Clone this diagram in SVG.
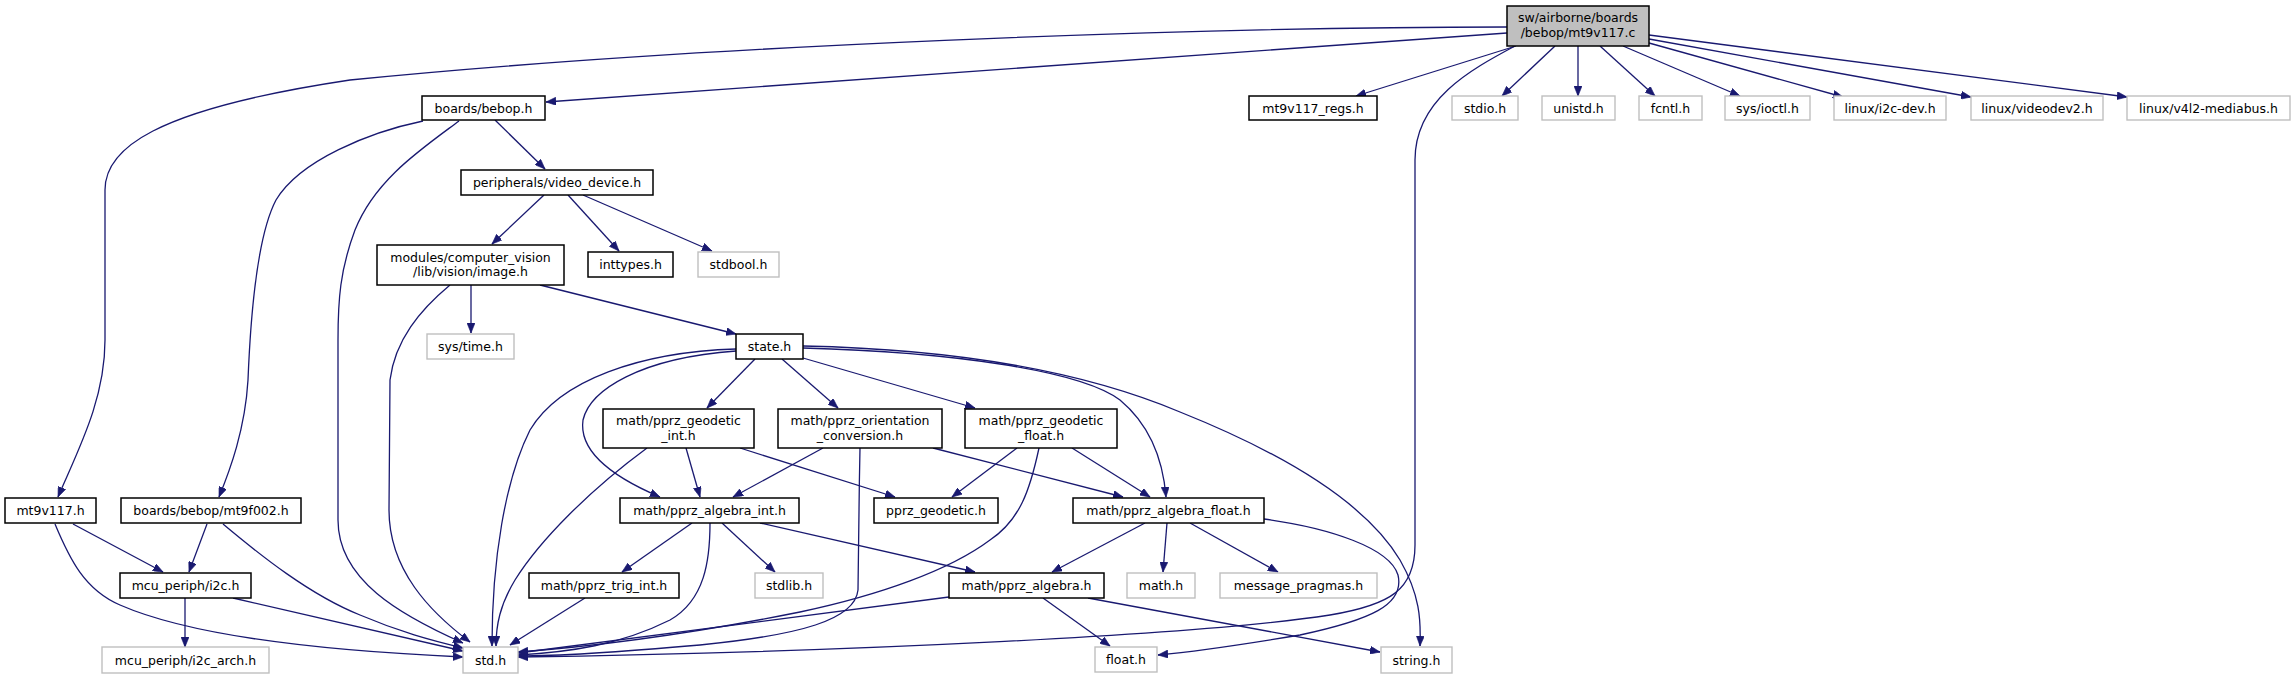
<svg xmlns="http://www.w3.org/2000/svg" width="2294" height="679" viewBox="0 0 2294 679">
<style>
.bg{fill:#ffffff}
.doc rect{fill:#ffffff;stroke:#000000;stroke-width:1.5}
.ext rect{fill:#ffffff;stroke:#bfbfbf;stroke-width:1.4}
.main rect{fill:#bfbfbf;stroke:#000000;stroke-width:1.5}
text{font-family:"DejaVu Sans","Liberation Sans",sans-serif;font-size:12.5px;fill:#000000;text-anchor:middle}
.edges path{fill:none;stroke:#191970;stroke-width:1.3;marker-end:url(#arr)}
</style>
<defs>
<marker id="arr" markerUnits="userSpaceOnUse" markerWidth="11" markerHeight="8" refX="10" refY="4" orient="auto">
<path d="M0,0 L10,4 L0,8 z" fill="#191970" stroke="#191970" stroke-width="0.6"/>
</marker>
</defs>
<rect class="bg" x="0" y="0" width="2294" height="679"/>
<g id="edges" class="edges">
<path d="M1507,33 L546,102"/>
<path d="M1507,27 C1200,27 700,45 350,80 C150,110 105,150 105,190 L105,340 C105,400 78,450 58,497"/>
<path d="M1516,46 L1356,96"/>
<path d="M1555,46 L1502,96"/>
<path d="M1578,46 L1578,96"/>
<path d="M1600,46 L1655,96"/>
<path d="M1623,46 L1740,96"/>
<path d="M1649,43 L1843,97"/>
<path d="M1649,39 L1971,97"/>
<path d="M1649,35 L2127,97"/>
<path d="M1515,46 C1470,70 1415,100 1415,160 L1415,545 C1415,590 1390,605 1330,615 C1200,635 850,652 518,657"/>
<path d="M495,120 L545,169"/>
<path d="M423,121 C370,132 300,160 276,200 C255,240 250,330 248,380 C245,430 230,470 219,497"/>
<path d="M459,121 C420,150 375,180 355,230 C340,270 338,300 338,340 L338,520 C338,580 400,615 463,643"/>
<path d="M544,195 L492,244"/>
<path d="M568,195 L619,251"/>
<path d="M583,195 L712,251"/>
<path d="M471,285 L471,333"/>
<path d="M540,285 L736,334"/>
<path d="M450,285 C420,310 395,340 390,380 L389,510 C389,570 430,612 470,642"/>
<path d="M736,349 C640,352 560,380 530,430 C505,480 492,560 492,646"/>
<path d="M736,351 C640,358 590,390 583,420 C578,455 620,480 660,497"/>
<path d="M755,359 L707,408"/>
<path d="M782,359 L838,408"/>
<path d="M803,358 L975,408"/>
<path d="M803,348 C950,352 1080,370 1120,400 C1150,425 1163,460 1166,497"/>
<path d="M803,346 C950,349 1080,370 1180,412 C1300,460 1370,510 1400,560 C1420,595 1421,620 1420,646"/>
<path d="M647,448 C590,490 540,540 515,580 C500,605 496,625 496,646"/>
<path d="M686,448 L700,497"/>
<path d="M740,448 L895,497"/>
<path d="M823,448 L733,497"/>
<path d="M933,448 L1123,497"/>
<path d="M860,448 C859,500 858,560 858,590 C855,620 800,635 700,645 C620,652 560,656 518,656"/>
<path d="M1017,448 L952,497"/>
<path d="M1072,448 L1150,497"/>
<path d="M1039,448 C1030,490 1020,520 990,540 C950,570 880,595 800,612 C700,632 600,646 518,652"/>
<path d="M692,523 L622,572"/>
<path d="M722,523 L775,572"/>
<path d="M760,523 L975,572"/>
<path d="M710,523 C710,560 705,600 670,620 C620,645 570,652 518,655"/>
<path d="M1145,523 L1052,572"/>
<path d="M1167,523 L1163,572"/>
<path d="M1190,523 L1278,572"/>
<path d="M1264,519 C1330,528 1390,548 1398,575 C1405,605 1370,620 1300,635 C1240,645 1190,652 1158,655"/>
<path d="M585,598 L510,645"/>
<path d="M1043,598 L1110,646"/>
<path d="M1088,598 L1380,652"/>
<path d="M949,597 L518,653"/>
<path d="M73,524 L163,572"/>
<path d="M55,524 C70,560 85,590 120,605 C200,640 350,652 463,657"/>
<path d="M207,524 L189,572"/>
<path d="M223,524 C260,555 310,595 360,615 C400,632 430,640 463,648"/>
<path d="M185,598 L185,647"/>
<path d="M233,598 L463,651"/>
</g>
<g id="n_main" class="main"><rect x="1507" y="6" width="142" height="40"/><text x="1578" y="22">sw/airborne/boards</text><text x="1578" y="37">/bebop/mt9v117.c</text></g>
<g id="n_bebop" class="doc"><rect x="422" y="96" width="123" height="24"/><text x="483.5" y="112.5">boards/bebop.h</text></g>
<g id="n_regs" class="doc"><rect x="1249" y="96" width="128" height="24"/><text x="1313" y="112.5">mt9v117_regs.h</text></g>
<g id="n_stdio" class="ext"><rect x="1452" y="96" width="66" height="24"/><text x="1485" y="112.5">stdio.h</text></g>
<g id="n_unistd" class="ext"><rect x="1542" y="96" width="73" height="24"/><text x="1578.5" y="112.5">unistd.h</text></g>
<g id="n_fcntl" class="ext"><rect x="1639" y="96" width="63" height="24"/><text x="1670.5" y="112.5">fcntl.h</text></g>
<g id="n_ioctl" class="ext"><rect x="1725" y="96" width="85" height="24"/><text x="1767.5" y="112.5">sys/ioctl.h</text></g>
<g id="n_i2cdev" class="ext"><rect x="1834" y="96" width="112" height="24"/><text x="1890" y="112.5">linux/i2c-dev.h</text></g>
<g id="n_videodev2" class="ext"><rect x="1971" y="96" width="132" height="24"/><text x="2037" y="112.5">linux/videodev2.h</text></g>
<g id="n_mediabus" class="ext"><rect x="2127" y="96" width="163" height="24"/><text x="2208.5" y="112.5">linux/v4l2-mediabus.h</text></g>
<g id="n_video_device" class="doc"><rect x="461" y="170" width="192" height="25"/><text x="557" y="187">peripherals/video_device.h</text></g>
<g id="n_image" class="doc"><rect x="377" y="245" width="187" height="40"/><text x="470.5" y="261.5">modules/computer_vision</text><text x="470.5" y="275.5">/lib/vision/image.h</text></g>
<g id="n_inttypes" class="doc"><rect x="588" y="252" width="85" height="25"/><text x="630.5" y="269">inttypes.h</text></g>
<g id="n_stdbool" class="ext"><rect x="698" y="252" width="81" height="25"/><text x="738.5" y="269">stdbool.h</text></g>
<g id="n_systime" class="ext"><rect x="427" y="334" width="87" height="25"/><text x="470.5" y="351">sys/time.h</text></g>
<g id="n_state" class="doc"><rect x="736" y="334" width="67" height="25"/><text x="769.5" y="351">state.h</text></g>
<g id="n_geodetic_int" class="doc"><rect x="603" y="409" width="151" height="39"/><text x="678.5" y="425">math/pprz_geodetic</text><text x="678.5" y="439.5">_int.h</text></g>
<g id="n_orientation" class="doc"><rect x="778" y="409" width="164" height="39"/><text x="860" y="425">math/pprz_orientation</text><text x="860" y="439.5">_conversion.h</text></g>
<g id="n_geodetic_float" class="doc"><rect x="965" y="409" width="152" height="39"/><text x="1041" y="425">math/pprz_geodetic</text><text x="1041" y="439.5">_float.h</text></g>
<g id="n_mt9v117" class="doc"><rect x="5" y="498" width="91" height="25"/><text x="50.5" y="515">mt9v117.h</text></g>
<g id="n_mt9f002" class="doc"><rect x="121" y="498" width="180" height="25"/><text x="211" y="515">boards/bebop/mt9f002.h</text></g>
<g id="n_algebra_int" class="doc"><rect x="620" y="498" width="179" height="25"/><text x="709.5" y="515">math/pprz_algebra_int.h</text></g>
<g id="n_pprz_geodetic" class="doc"><rect x="874" y="498" width="124" height="25"/><text x="936" y="515">pprz_geodetic.h</text></g>
<g id="n_algebra_float" class="doc"><rect x="1073" y="498" width="191" height="25"/><text x="1168.5" y="515">math/pprz_algebra_float.h</text></g>
<g id="n_i2c" class="doc"><rect x="120" y="573" width="131" height="25"/><text x="185.5" y="590">mcu_periph/i2c.h</text></g>
<g id="n_trig_int" class="doc"><rect x="529" y="573" width="150" height="25"/><text x="604" y="590">math/pprz_trig_int.h</text></g>
<g id="n_stdlib" class="ext"><rect x="755" y="573" width="68" height="25"/><text x="789" y="590">stdlib.h</text></g>
<g id="n_algebra" class="doc"><rect x="949" y="573" width="155" height="25"/><text x="1026.5" y="590">math/pprz_algebra.h</text></g>
<g id="n_math" class="ext"><rect x="1127" y="573" width="68" height="25"/><text x="1161" y="590">math.h</text></g>
<g id="n_pragmas" class="ext"><rect x="1220" y="573" width="157" height="25"/><text x="1298.5" y="590">message_pragmas.h</text></g>
<g id="n_i2c_arch" class="ext"><rect x="102" y="647" width="167" height="26"/><text x="185.5" y="664.5">mcu_periph/i2c_arch.h</text></g>
<g id="n_std" class="ext"><rect x="463" y="647" width="55" height="26"/><text x="490.5" y="664.5">std.h</text></g>
<g id="n_float" class="ext"><rect x="1095" y="647" width="62" height="25"/><text x="1126" y="664">float.h</text></g>
<g id="n_string" class="ext"><rect x="1381" y="647" width="71" height="26"/><text x="1416.5" y="664.5">string.h</text></g>
</svg>
